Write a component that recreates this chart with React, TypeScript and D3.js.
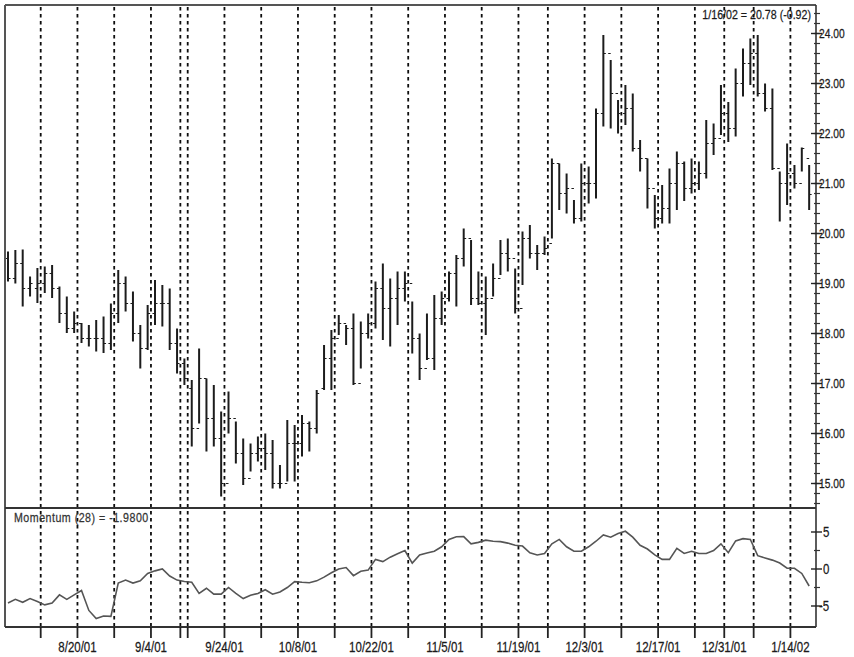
import React from "react";
import * as d3 from "d3";

// Daily bars, 8/6/01 .. 1/16/02 (110 trading days)
const highs = [
  19.64, 19.67, 19.68, 19.14, 19.31, 19.34, 19.37, 18.94, 18.74, 18.44,
  18.21, 18.17, 18.27, 18.34, 18.6, 19.27, 19.14, 18.84, 18.17, 18.57,
  19.07, 18.97, 18.9, 18.1, 17.5, 17.07, 17.7, 17.1, 16.97, 16.44,
  16.84, 16.24, 15.9, 15.8, 15.94, 16.0, 15.87, 15.37, 16.27, 16.17,
  16.37, 16.24, 16.87, 17.77, 18.07, 18.37, 18.17, 18.4, 18.24, 18.4,
  19.04, 19.4, 19.1, 19.24, 19.24, 18.64, 18.0, 18.4, 18.77, 18.84,
  19.24, 19.57, 20.1, 19.87, 19.24, 19.14, 19.4, 19.87, 19.9, 19.3,
  20.04, 20.17, 19.77, 19.94, 21.5, 21.4, 21.2, 20.67, 21.4, 21.34,
  22.5, 23.97, 23.47, 22.67, 22.97, 22.8, 21.87, 21.5, 20.77, 20.97,
  21.3, 21.64, 21.44, 21.5, 21.44, 22.27, 22.2, 22.97, 22.63, 23.3,
  23.7, 23.9, 23.97, 23.0, 22.9, 21.24, 21.8, 21.37, 21.72, 21.37,
];
const lows = [
  19.04, 19.0, 18.54, 18.74, 18.61, 18.81, 18.71, 18.21, 18.01, 18.01,
  17.81, 17.74, 17.64, 17.61, 17.67, 18.21, 18.44, 17.84, 17.3, 17.67,
  18.17, 18.14, 17.67, 17.2, 16.97, 15.74, 16.2, 15.64, 15.74, 14.74,
  16.0, 15.4, 14.97, 15.24, 15.44, 15.27, 14.9, 14.9, 15.04, 15.04,
  15.54, 15.64, 16.0, 16.87, 16.87, 17.97, 17.77, 16.97, 17.3, 17.9,
  18.1, 17.87, 17.74, 18.17, 18.64, 17.6, 17.07, 17.47, 17.27, 18.17,
  18.64, 18.54, 19.34, 18.57, 18.57, 17.97, 18.74, 19.17, 19.24, 18.4,
  18.97, 19.5, 19.27, 19.57, 19.9, 20.47, 20.4, 20.2, 20.24, 20.6,
  20.7, 22.14, 22.1, 22.0, 22.17, 21.64, 21.24, 20.5, 20.1, 20.2,
  20.2, 20.47, 20.65, 20.8, 20.87, 21.1, 21.57, 21.97, 21.83, 21.94,
  22.74, 22.97, 22.74, 22.44, 21.27, 20.24, 20.57, 20.9, 21.24, 20.47,
];
const opens = [
  19.5, 19.1, 19.4, 18.9, 18.9, 19.0, 19.2, 18.9, 18.4, 18.1,
  18.2, 17.9, 17.9, 17.9, 17.8, 18.4, 19.0, 18.6, 18.0, 17.7,
  18.4, 18.6, 18.6, 17.8, 17.4, 16.9, 16.1, 17.1, 16.3, 15.9,
  15.0, 16.3, 15.6, 15.1, 15.6, 15.7, 15.6, 15.0, 15.0, 15.8,
  15.8, 16.2, 16.1, 16.9, 17.5, 17.9, 18.2, 18.1, 17.0, 18.0,
  18.2, 18.9, 18.5, 18.7, 18.9, 19.0, 17.9, 17.3, 17.5, 18.3,
  18.7, 19.2, 19.5, 19.9, 18.7, 18.6, 18.7, 19.1, 19.6, 19.5,
  18.5, 19.9, 19.6, 19.6, 19.8, 21.4, 20.8, 20.9, 20.3, 21.0,
  21.0, 22.4, 23.6, 22.8, 22.4, 22.5, 21.7, 21.5, 20.9, 20.3,
  20.5, 21.0, 21.4, 20.9, 21.0, 21.2, 21.8, 21.9, 22.4, 22.1,
  23.0, 23.4, 23.6, 22.8, 22.5, 21.3, 21.0, 21.2, 21.0, 21.5,
];
const closes = [
  19.1, 19.4, 18.9, 19.0, 19.0, 19.2, 18.9, 18.4, 18.1, 18.2,
  17.9, 17.9, 17.9, 17.8, 18.4, 19.0, 18.6, 18.0, 17.7, 18.4,
  18.6, 18.6, 17.8, 17.4, 17.1, 16.1, 17.1, 16.3, 15.9, 15.0,
  16.3, 15.6, 15.1, 15.6, 15.7, 15.6, 15.0, 15.0, 15.8, 15.8,
  16.2, 16.1, 16.8, 17.5, 17.9, 18.2, 18.1, 17.0, 18.0, 18.2,
  18.9, 18.5, 18.7, 18.9, 19.0, 17.9, 17.3, 17.5, 18.3, 18.7,
  19.2, 19.5, 19.9, 18.7, 18.6, 18.7, 19.1, 19.6, 19.5, 18.5,
  19.9, 19.6, 19.6, 19.7, 21.4, 20.8, 20.9, 20.3, 21.0, 21.0,
  22.4, 23.6, 22.8, 22.4, 22.5, 21.7, 21.5, 20.9, 20.3, 20.5,
  21.0, 21.4, 20.9, 21.0, 21.2, 21.8, 21.9, 22.4, 22.1, 23.0,
  23.4, 23.6, 22.8, 22.5, 21.3, 21.0, 21.2, 21.0, 21.7, 20.78,
];
const momentum = [
  -4.6, -4.1, -4.5, -4.0, -4.4, -4.85, -4.6, -3.5, -4.1, -3.5,
  -2.9, -5.6, -6.7, -6.35, -6.4, -1.9, -1.5, -1.9, -1.6, -0.6,
  -0.25, 0.0, -0.95, -1.5, -1.7, -1.8, -3.3, -2.6, -3.4, -3.4,
  -2.5, -3.3, -4.0, -3.55, -3.3, -2.8, -3.4, -3.1, -2.5, -1.7,
  -1.8, -1.85, -1.6, -1.1, -0.5, 0.0, 0.2, -0.9, -0.3, -0.15,
  1.3, 1.0, 1.6, 2.05, 2.5, 0.8, 1.9, 2.15, 2.4, 3.0,
  4.0, 4.35, 4.37, 3.4, 3.6, 3.9, 3.75, 3.7, 3.5, 3.2,
  3.1, 2.2, 1.9, 2.1, 3.4, 4.0, 3.0, 2.4, 2.4, 3.0,
  3.75, 4.6, 4.3, 4.8, 5.1, 4.3, 3.2, 2.7, 1.9, 1.3,
  1.3, 2.8, 2.1, 2.4, 2.1, 2.1, 2.5, 3.4, 2.2, 3.8,
  4.1, 4.0, 1.8, 1.5, 1.2, 0.8, 0.1, 0.1, -0.6, -2.3,
];

// first trading day of each week (index into the bar arrays)
const weekStarts = [
  "8/13/01", "8/20/01", "8/27/01", "9/4/01", "9/10/01", "9/17/01", "9/24/01",
  "10/1/01", "10/8/01", "10/15/01", "10/22/01", "10/29/01", "11/5/01",
  "11/12/01", "11/19/01", "11/26/01", "12/3/01", "12/10/01", "12/17/01",
  "12/24/01", "12/31/01", "1/7/02", "1/14/02",
];
const weekStartIdx = [
  5, 10, 15, 20, 24, 25, 30, 35, 40, 45, 50, 55, 60, 65, 70, 74, 79, 84, 89,
  94, 98, 102, 107,
];
const labeledWeeks = [
  "8/20/01", "9/4/01", "9/24/01", "10/8/01", "10/22/01", "11/5/01",
  "11/19/01", "12/3/01", "12/17/01", "12/31/01", "1/14/02",
];
const priceTicks = [15, 16, 17, 18, 19, 20, 21, 22, 23, 24];
const momTicks = [-5, 0, 5];
const momMinor = [-2.5, 2.5];
const headerText = "1/16/02 = 20.78 (-0.92)";
const momLabel = "Momentum (28) = -1.9800";

const FONT = "'Liberation Sans', Arial, sans-serif";
const SX = 0.82;

function NText(props: {
  x: number;
  y: number;
  size: number;
  anchor?: string;
  fill?: string;
  ls?: number;
  children: React.ReactNode;
}) {
  const { x, y, size, anchor = "start", fill = "#1a1a1a", ls = 0, children } = props;
  return (
    <text
      transform={`translate(${x},${y}) scale(${SX},1)`}
      fontSize={size}
      textAnchor={anchor}
      fill={fill}
      letterSpacing={ls}
      stroke={fill}
      strokeWidth={0.25}
    >
      {children}
    </text>
  );
}

export default function App() {
  const W = 854;
  const H = 657;
  const L = 5, R = 816, T = 5, SEP = 508, B = 627;
  const n = highs.length;
  const x = d3.scaleLinear().domain([0, n - 1]).range([8, 809.15]);
  const yP = d3.scaleLinear().domain([15, 24]).range([483.5, 33.5]);
  const yM = d3.scaleLinear().domain([-5, 5]).range([606, 532]);

  const minor = d3.range(14.6, 24.41, 0.2).map((v) => Math.round(v * 10) / 10);
  const momLine = d3
    .line<number>()
    .x((_, i) => x(i))
    .y((d) => yM(d))
    .curve(d3.curveLinear)(momentum) as string;

  const gx = (i: number) => x(i - 0.55);

  return (
    <svg
      width={W}
      height={H}
      style={{ position: "absolute", left: 0, top: 0, background: "#fff" }}
      fontFamily={FONT}
    >
      <rect x={0} y={0} width={W} height={H} fill="#fff" />
      {/* vertical dashed week lines */}
      {weekStartIdx.map((idx, k) => (
        <line
          key={"g" + k}
          x1={gx(idx)}
          x2={gx(idx)}
          y1={T + 2}
          y2={B}
          stroke="#0d0d0d"
          strokeWidth={1.8}
          strokeDasharray="3.5,3.5"
        />
      ))}
      {/* price bars */}
      {highs.map((h, i) => (
        <g key={"b" + i} stroke="#1c1c1c">
          <line x1={x(i)} x2={x(i)} y1={yP(h)} y2={yP(lows[i])} strokeWidth={2} />
          <line x1={x(i) - 2.5} x2={x(i)} y1={yP(opens[i])} y2={yP(opens[i])} strokeWidth={1} />
          <line x1={x(i)} x2={x(i) + 2.5} y1={yP(closes[i])} y2={yP(closes[i])} strokeWidth={1} />
        </g>
      ))}
      {/* momentum line */}
      <path d={momLine} fill="none" stroke="#555" strokeWidth={1.6} />
      {/* frame */}
      <line x1={L} x2={R} y1={T} y2={T} stroke="#555" strokeWidth={2} />
      <line x1={L} x2={L} y1={T} y2={B} stroke="#555" strokeWidth={2} />
      <line x1={R} x2={R} y1={T} y2={B} stroke="#333" strokeWidth={1.6} />
      <line x1={L} x2={R} y1={SEP} y2={SEP} stroke="#333" strokeWidth={2} />
      <line x1={L} x2={R} y1={B} y2={B} stroke="#333" strokeWidth={2} />
      {/* price axis */}
      {minor.map((v, k) => (
        <line key={"pm" + k} x1={R - 2} x2={R + 4} y1={yP(v)} y2={yP(v)} stroke="#333" strokeWidth={1.2} />
      ))}
      {priceTicks.map((v) => (
        <g key={"pt" + v}>
          <line x1={R - 5} x2={R + 6} y1={yP(v)} y2={yP(v)} stroke="#222" strokeWidth={1.4} />
          <NText x={R + 3} y={yP(v) + 4.5} size={12.5}>
            {v.toFixed(2)}
          </NText>
        </g>
      ))}
      {/* momentum axis */}
      {momMinor.map((v) => (
        <line key={"mm" + v} x1={R - 2} x2={R + 4} y1={yM(v)} y2={yM(v)} stroke="#333" strokeWidth={1.2} />
      ))}
      {momTicks.map((v) => (
        <g key={"mt" + v}>
          <line x1={R - 5} x2={R + 6} y1={yM(v)} y2={yM(v)} stroke="#222" strokeWidth={1.4} />
          <NText x={v < 0 ? R + 3 : R + 7} y={yM(v) + 5} size={14}>
            {v}
          </NText>
        </g>
      ))}
      {/* bottom date ticks and labels */}
      {weekStartIdx.map((idx, k) => (
        <line key={"bt" + k} x1={gx(idx)} x2={gx(idx)} y1={B} y2={B + 11} stroke="#222" strokeWidth={1.8} />
      ))}
      {weekStartIdx.map((idx, k) =>
        labeledWeeks.includes(weekStarts[k]) ? (
          <NText key={"bl" + k} x={gx(idx)} y={652} size={14} anchor="middle">
            {weekStarts[k]}
          </NText>
        ) : null
      )}
      {/* header & momentum label */}
      <NText x={811} y={19} size={13} anchor="end">
        {headerText}
      </NText>
      <NText x={14} y={522} size={13} fill="#333" ls={0.6}>
        {momLabel}
      </NText>
    </svg>
  );
}
